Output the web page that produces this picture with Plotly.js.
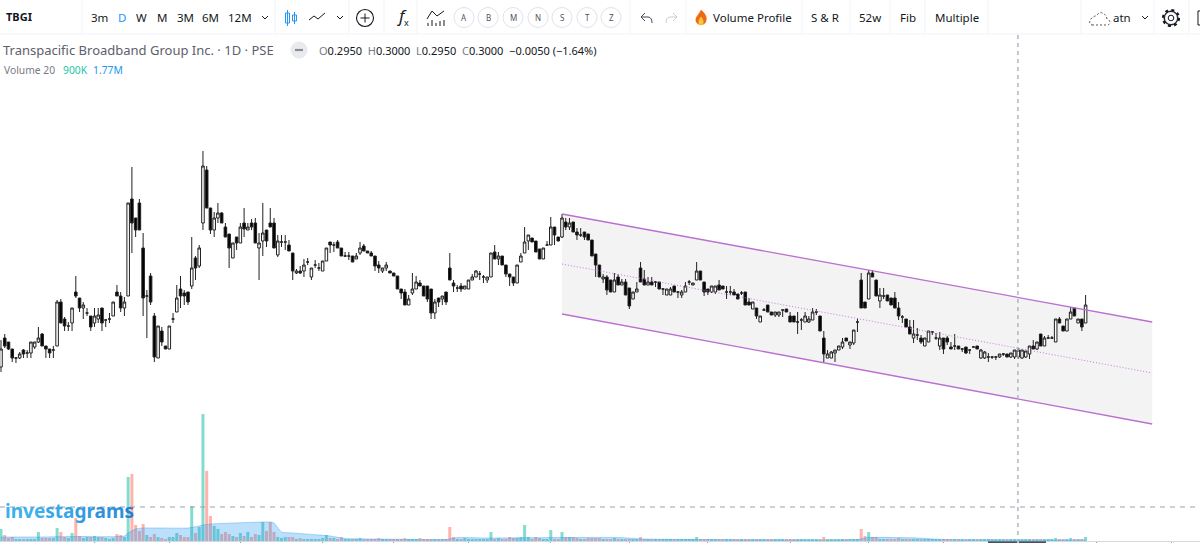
<!DOCTYPE html>
<html><head><meta charset="utf-8">
<script src="https://cdn.plot.ly/plotly-3.0.1.min.js"></script>
<style>html,body{margin:0;padding:0;background:#fff;overflow:hidden}#c{width:1200px;height:543px}</style>
</head><body><div id="c"></div>
<script>
// Prices in thousandths of a peso, one entry per daily candle
const opens=[288,317,313,306,297,297,305,302,302,308,
313,321,309,306,305,309,353,336,329,332,
363,357,347,342,339,332,336,347,335,336,
339,363,359,347,359,456,437,452,407,359,
379,339,297,324,309,306,336,343,366,362,
363,369,397,389,432,485,447,425,437,442,
428,421,397,418,412,432,425,432,432,407,
414,425,432,432,400,413,413,410,402,382,
384,384,393,378,390,387,384,394,413,410,
413,407,399,399,399,396,402,409,404,402,
399,390,384,387,384,382,379,366,363,350,
362,366,372,369,369,366,342,357,356,363,
387,372,367,369,366,366,375,378,381,378,
375,378,403,396,399,390,381,378,372,393,
402,414,417,414,406,396,410,410,428,418,
418,433,428,433,423,420,423,421,415,401,
390,376,378,375,363,378,370,373,367,356,
363,387,376,370,373,373,373,366,360,360,
369,363,360,363,373,370,375,384,373,366,
363,363,370,369,363,363,363,361,362,363,
353,346,347,333,345,350,343,340,340,345,
346,339,339,333,335,333,333,335,343,339,
317,297,297,302,305,308,317,310,312,333,
375,353,356,382,375,354,359,360,357,357,
347,338,336,328,317,320,317,309,313,323,
317,309,317,317,308,309,309,306,308,305,
308,309,297,297,298,298,298,298,301,301,
298,298,298,297,298,301,309,306,321,309,
317,317,313,336,329,324,336,347,332,336,
332];
const highs=[315,321,313,306,298,303,306,305,313,313,
328,322,309,306,309,355,356,338,333,347,
379,357,353,347,339,347,347,347,336,342,
353,370,363,358,452,488,437,456,422,365,
382,342,329,328,309,329,342,370,379,365,
363,418,399,410,504,489,447,443,452,443,
432,421,412,418,432,447,432,436,437,422,
452,425,447,437,420,420,420,415,402,386,
389,396,397,387,395,392,394,407,413,413,
415,407,403,403,399,402,413,411,404,404,
399,394,387,393,384,382,379,366,366,360,
382,379,375,369,369,366,356,357,359,363,
402,375,370,372,369,375,381,385,384,380,
378,402,410,403,399,390,381,378,390,402,
428,420,417,414,406,407,414,438,428,418,
441,437,437,433,427,427,423,421,415,401,
390,381,380,375,382,381,376,376,367,363,
373,393,385,378,378,374,373,367,366,368,
369,364,365,373,375,372,393,384,373,366,
369,369,375,369,369,369,366,361,364,363,
357,353,347,339,347,350,343,343,343,345,
346,343,339,343,337,343,339,347,346,339,
324,305,304,305,309,317,317,313,325,337,
382,353,385,385,375,367,367,360,357,363,
353,340,336,335,335,327,320,317,324,324,
322,323,317,319,313,321,309,307,308,305,
309,309,306,304,302,299,299,301,302,301,
302,305,307,305,304,309,315,313,321,319,
320,319,336,338,329,336,348,347,336,336,
360];
const lows=[283,307,305,293,292,296,297,297,297,306,
312,309,297,297,297,309,332,324,324,324,
357,343,336,339,324,328,332,324,328,332,
339,359,343,339,359,402,418,425,339,317,
350,293,297,309,306,306,332,343,347,350,
350,366,375,387,425,447,421,418,432,432,
418,387,397,405,412,418,425,425,412,375,
399,408,428,407,398,408,405,404,375,381,
381,378,390,375,387,384,384,394,402,403,
407,399,398,395,393,396,400,404,402,399,
384,382,382,384,382,379,366,356,350,350,
360,366,369,359,353,336,336,348,350,350,
375,363,363,363,366,366,375,378,375,372,
372,378,396,390,390,378,369,369,372,393,
402,405,413,403,396,396,410,410,410,414,
417,425,425,423,415,418,415,415,399,378,
378,372,360,363,363,370,370,360,346,356,
363,373,370,370,370,368,366,360,360,360,
363,357,357,363,370,370,375,375,359,360,
362,361,365,366,356,360,360,356,360,350,
350,346,336,333,344,343,340,338,338,338,
343,333,333,321,325,333,332,335,340,324,
293,297,297,293,305,306,314,306,310,323,
347,347,356,378,359,347,356,354,350,347,
335,332,328,321,312,315,311,309,313,320,
315,305,301,310,306,305,306,303,301,301,
308,306,296,296,293,296,295,297,299,298,
297,296,296,296,297,296,306,305,309,309,
316,316,313,332,324,324,336,339,332,324,
332];
const closes=[306,309,306,297,297,301,301,302,313,313,
317,309,306,302,305,353,332,329,329,347,
359,347,350,342,328,339,340,332,335,336,
353,359,347,353,452,432,425,425,357,359,
353,298,329,313,306,329,336,357,359,359,
353,387,387,407,489,447,425,437,442,432,
418,407,412,412,428,426,428,428,412,412,
422,414,428,407,414,413,413,404,384,384,
382,390,393,387,390,387,394,407,410,410,
407,399,399,399,393,399,407,404,402,399,
389,387,387,390,382,379,366,362,350,356,
366,373,369,359,356,342,353,353,359,353,
375,369,367,366,369,375,378,384,381,378,
378,402,396,399,390,381,378,372,390,399,
413,420,413,403,396,407,410,428,420,414,
437,428,432,423,420,420,418,415,399,390,
378,378,365,363,375,370,373,360,349,363,
366,373,370,373,370,373,366,366,366,366,
363,363,363,369,373,372,384,375,363,363,
369,369,365,366,363,363,360,356,362,350,
350,353,339,339,345,343,340,343,343,345,
343,333,333,333,335,339,336,343,343,324,
301,301,303,305,309,313,314,313,325,333,
347,347,382,378,359,360,359,354,350,347,
339,338,328,321,321,320,313,317,324,323,
317,317,306,313,306,309,306,306,302,305,
308,306,305,303,298,298,298,301,301,298,
302,305,305,305,304,309,306,313,309,317,
317,317,336,332,324,336,343,339,336,328,
350];
// Volume in hundreds of thousands of shares
const volumes=[12,6,3,4,2,2,2,2,2,2,
9,3,3,3,3,13,9,4,3,8,
23,5,3,4,4,5,4,4,3,2,
3,7,6,4,64,67,16,10,17,6,
4,7,4,3,2,4,4,8,6,4,
4,35,8,14,127,70,25,15,12,7,
9,7,5,4,8,5,9,4,7,6,
19,10,19,9,4,3,4,4,4,2,
3,2,2,2,2,2,3,6,3,3,
2,4,2,2,2,2,3,2,2,2,
2,3,2,2,2,2,2,2,3,2,
2,2,3,2,2,2,2,2,2,2,
14,4,2,2,3,2,2,2,2,2,
2,9,2,3,2,2,4,3,3,4,
16,4,2,4,3,2,2,11,2,2,
9,4,4,4,3,2,2,3,3,3,
3,2,2,2,3,2,2,2,2,2,
2,4,2,2,2,2,2,2,2,2,
2,2,2,2,2,2,4,2,2,2,
2,2,2,2,2,2,2,2,2,2,
2,2,2,2,2,2,2,2,2,2,
2,2,2,2,2,2,2,2,2,2,
4,2,2,2,2,2,2,2,2,2,
12,5,9,4,4,2,2,2,2,2,
3,2,2,2,2,2,2,2,2,2,
2,2,2,2,2,2,2,2,2,2,
2,2,2,2,2,2,2,2,2,2,
2,2,2,2,2,2,2,2,2,2,
2,2,3,2,2,2,3,2,2,2,
4];
// Volume moving average read at a handful of days
const maDays=[0,10,20,33,34,36,38,50,53,54,56,70,72,73,75,78,88,92,100,119,122,130,150,165,172,185,229,232,245,252,290];
const maValues=[4,4,4.5,5,8,12,13,13,15,16,17,19,19,18,9,8,5,2.5,2,1.5,3.5,3,3.5,3.5,2,1.5,1.5,3.5,3,1.5,1];
// Parallel channel anchors
const channelDays=[150,307.8];
const channelTop=[441,333];
const channelMid=[391,282];
const channelBottom=[341,231];
const tickDays=[25,45,64,86,105,125,147,168,189,211,232,252,293,313];
const crossDay=271.9, crossVolume=34;
const periods=['3m','D','W','M','3M','6M','12M'];
const periodX=[90,117,135,156,176,201,227];
const circled=['A','B','M','N','S','T','Z'];
const circledX=[464,488,513,538,562,587,611];
const tools=['Volume Profile','S & R','52w','Fib','Multiple'];
const toolX=[712,810,858,899,934];
const dividers=[82,275,349,384,417,630,686,802,850,890,925,988,1081,1154,1189];

const W=1200,H=541,FONT='"Noto Sans", sans-serif';
const days=opens.map((_,i)=>i);
const px=x=>x/W, py=y=>1-y/H;
const pth=s=>{let n=0;return s.replace(/-?\d+(\.\d+)?/g,m=>(n++%2===0?px(+m):py(+m)).toFixed(5));};
const shapeP=(s,color,w,extra)=>Object.assign({type:'path',xref:'paper',yref:'paper',path:pth(s),line:{color:color,width:w===undefined?1:w}},extra||{});
const circle=(cx,cy,r,color,w,extra)=>Object.assign({type:'circle',xref:'paper',yref:'paper',x0:px(cx-r),x1:px(cx+r),y0:py(cy+r),y1:py(cy-r),line:{color:color,width:w}},extra||{});
const T=(text,x,y,size,color,extra)=>Object.assign({text:text,xref:'paper',yref:'paper',x:px(x),y:py(y),xanchor:'left',yanchor:'middle',showarrow:false,font:{family:FONT,size:size,color:color},borderpad:0},extra||{});

const annotations=[], shapes=[];
// Channel, through the price axis
const chPath='M '+channelDays[0]+' '+channelTop[0]+' L '+channelDays[1]+' '+channelTop[1]+' L '+channelDays[1]+' '+channelBottom[1]+' L '+channelDays[0]+' '+channelBottom[0]+' Z';
shapes.push({type:'path',xref:'x',yref:'y',path:chPath,fillcolor:'#f3f3f3',line:{width:0},layer:'below'});
[[channelTop,'solid',1.3,'#bb6fd0'],[channelBottom,'solid',1.3,'#bb6fd0'],[channelMid,'1px 2px',1,'#c27ed6']].forEach(d=>shapes.push({type:'line',xref:'x',yref:'y',x0:channelDays[0],x1:channelDays[1],y0:d[0][0],y1:d[0][1],line:{color:d[3],width:d[2],dash:d[1]}}));
// Crosshair
shapes.push({type:'line',xref:'x',yref:'paper',x0:crossDay,x1:crossDay,y0:py(543),y1:py(35),line:{color:'#aab1bf',width:1.4,dash:'4px 4px'}});
shapes.push({type:'line',xref:'paper',yref:'y2',x0:0,x1:1,y0:crossVolume,y1:crossVolume,line:{color:'#9aa0ac',width:1,dash:'5px 5px'}});
// Toolbar frame
shapes.push(shapeP('M 0 34 L 1200 34','#f1f3f8',1));
dividers.forEach(x=>shapes.push(shapeP('M '+x+' 0 L '+x+' 34','#f1f3f8',1)));
// Toolbar text
annotations.push(T('<b>TBGI</b>',5,17,11,'#131722'));
periods.forEach((p,i)=>annotations.push(T(p,periodX[i],17.5,11.5,p==='D'?'#2196f3':'#131722')));
tools.forEach((p,i)=>annotations.push(T(p,toolX[i],17.5,11.5,'#131722')));
circled.forEach((p,i)=>{shapes.push(circle(circledX[i],17.5,10,'#e0e3eb',1));annotations.push(T(p,circledX[i],17.5,8,'#50535e',{xanchor:'center'}));});
annotations.push(T('<i>f</i>',396,15,17,'#131722'));
annotations.push(T('x',403,23,9,'#131722'));
annotations.push(T('atn',1112,18,11.5,'#131722'));
// Chevrons
[265,340,1145].forEach(x=>shapes.push(shapeP('M '+(x-3)+' 16 L '+x+' 19 L '+(x+3)+' 16','#131722',1)));
// Candle icon
shapes.push(shapeP('M 287.5 10 L 287.5 26 M 285.5 13 L 289.5 13 L 289.5 23 L 285.5 23 Z M 294.5 12 L 294.5 24 M 292.5 15 L 296.5 15 L 296.5 21 L 292.5 21 Z','#2196f3',1));
// Line icon
shapes.push(shapeP('M 309 20 L 314 16 L 318 19 L 325 13','#131722',1));
// Plus circle
shapes.push(circle(365,18,8.5,'#131722',1.1));
shapes.push(shapeP('M 360.5 18 L 369.5 18 M 365 13.5 L 365 22.5','#131722',1));
// Indicator icon
shapes.push(shapeP('M 427 19 L 432 11 L 437 16 L 444 11 M 428 26 L 428 23 M 432 26 L 432 20 M 436 26 L 436 23 M 440 26 L 440 21 M 444 26 L 444 20','#131722',1));
// Undo/redo
shapes.push(shapeP('M 645 13 L 641 17 L 645 21 M 641 17 L 648 17 C 651 17 652 20 652 23','#434651',1));
shapes.push(shapeP('M 673 13 L 677 17 L 673 21 M 677 17 L 670 17 C 667 17 666 20 666 23','#c9cbd3',1));
// Flame
shapes.push(shapeP('M 701 10 C 706 14 707 18 706 21 C 705 26 697 26 696 21 C 695 17 699 15 701 10 Z','#e8600c',0.5,{fillcolor:'#ec6a12'}));
shapes.push(shapeP('M 701 17 C 704 20 704 25 701 25 C 698 25 698 20 701 17 Z','#f8c83c',0.5,{fillcolor:'#f8c83c'}));
// Cloud
shapes.push(shapeP('M 1092 25 L 1107 25 C 1111 25 1111 20 1107 19 C 1106 13 1100 10 1096 16 C 1091 16 1087 24 1092 25 Z','#555',1,{line:{color:'#555',width:1,dash:'2px 2px'}}));
// Gear
shapes.push(circle(1171,18,7,'#131722',1));
shapes.push(circle(1171,18,8,'#131722',2.2,{line:{color:'#131722',width:2.2,dash:'3px 3.3px'}}));
shapes.push(circle(1171,18,6.5,'#ffffff',0.01,{fillcolor:'#ffffff'}));
shapes.push(circle(1171,18,6.5,'#131722',1));
shapes.push(circle(1171,18,2.8,'#131722',1));
shapes.push(shapeP('M 1200 11 L 1198 11 L 1198 25 L 1200 25','#131722',1));
// Legend rows
annotations.push(T('Transpacific Broadband Group Inc. · 1D · PSE',2,50,13,'#5d606b'));
shapes.push(circle(299,50,8,'#e9eaee',1,{fillcolor:'#e9eaee'}));
shapes.push(shapeP('M 295 50 L 303 50','#8a8d96',2.2));
const lab='#787b86',val='#131722';
const seg=(l,v)=>'<span style="color:'+lab+'">'+l+'</span><span style="color:'+val+'">'+v+'</span>';
annotations.push(T(seg('O','0.2950')+'  '+seg('H','0.3000')+'  '+seg('L','0.2950')+'  '+seg('C','0.3000')+'  '+seg('','−0.0050 (−1.64%)'),318,50,11,val));
annotations.push(T('Volume 20',3,70,10.3,'#787b86'));
annotations.push(T('900K',62,70,10.3,'#22c7a8'));
annotations.push(T('1.77M',92,70,10.3,'#2196f3'));
// Watermark
const wm=['#3bb0ec','#36a6e8','#329ce3','#2f90dc','#2a7cce'];
annotations.push(T('<b><span style="color:'+wm[0]+'">inve</span><span style="color:'+wm[1]+'">sta</span><span style="color:'+wm[2]+'">gr</span><span style="color:'+wm[3]+'">am</span><span style="color:'+wm[4]+'">s</span></b>',4,511,19,wm[0]));
// Bottom marker
shapes.push({type:'rect',xref:'paper',yref:'paper',x0:px(988),x1:px(1017),y0:py(543),y1:py(541.3),fillcolor:'#4a4f5c',line:{width:0}});
shapes.push({type:'rect',xref:'paper',yref:'paper',x0:px(1019),x1:px(1046),y0:py(543),y1:py(541.3),fillcolor:'#4a4f5c',line:{width:0}});

const traces=[
 {type:'candlestick',x:days,open:opens,high:highs,low:lows,close:closes,xaxis:'x',yaxis:'y',whiskerwidth:0,
  increasing:{line:{color:'#222',width:1},fillcolor:'#ffffff'},
  decreasing:{line:{color:'#222',width:1},fillcolor:'#000000'},hoverinfo:'skip'},
 {type:'bar',x:days,y:volumes,xaxis:'x',yaxis:'y2',width:0.8,
  marker:{color:closes.map((c,i)=>c>=opens[i]?'#84dccf':'#ffb3ac'),line:{width:0}},hoverinfo:'skip'},
 {type:'scatter',mode:'lines',x:maDays,y:maValues,xaxis:'x',yaxis:'y2',fill:'tozeroy',fillcolor:'rgba(33,150,243,0.3)',
  line:{color:'rgba(33,150,243,0.35)',width:1,shape:'spline',smoothing:0.5},hoverinfo:'skip'}
];
const layout={width:1200,height:543,margin:{l:0,r:0,t:0,b:2},paper_bgcolor:'#fff',plot_bgcolor:'#fff',showlegend:false,hovermode:false,barmode:'overlay',boxgap:0.02,boxmode:'overlay',
 xaxis:{type:'linear',range:[-1/3.74,1199/3.74],rangeslider:{visible:false},showgrid:false,zeroline:false,showline:true,linecolor:'#d6d8dd',linewidth:1,ticks:'outside',ticklen:2,tickcolor:'#9a9ea8',tickwidth:1,tickmode:'array',tickvals:tickDays,showticklabels:false,fixedrange:true},
 yaxis:{range:[114,655],showgrid:false,zeroline:false,showticklabels:false,ticks:'',fixedrange:true},
 yaxis2:{range:[0,541],overlaying:'y',showgrid:false,zeroline:false,showticklabels:false,ticks:'',fixedrange:true},
 shapes:shapes,annotations:annotations};
Plotly.newPlot('c',traces,layout,{displayModeBar:false,staticPlot:true});
</script></body></html>
